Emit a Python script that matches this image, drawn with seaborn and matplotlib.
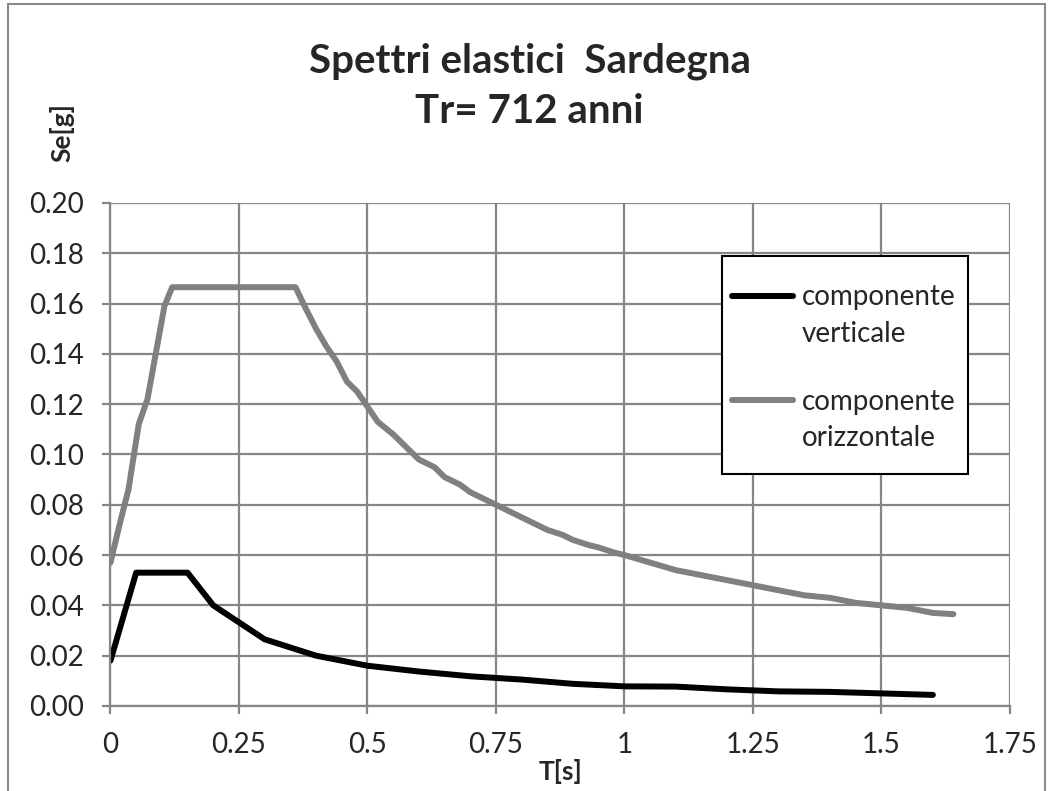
import numpy as np
import pandas as pd
import seaborn as sns
import matplotlib.pyplot as plt
from matplotlib.patches import Rectangle
from matplotlib.legend_handler import HandlerLine2D

# periodo T[s] e accelerazione spettrale Se[g]
t_vert = [0, 0.05, 0.15, 0.2, 0.3, 0.4, 0.5, 0.6, 0.7, 0.8, 0.9, 1.0,
          1.1, 1.2, 1.3, 1.4, 1.5, 1.6]
se_vert = [0.018, 0.053, 0.053, 0.040, 0.0265, 0.020, 0.016, 0.0137, 0.0118,
           0.0105, 0.0088, 0.0078, 0.0077, 0.0066, 0.0058, 0.0056, 0.0050, 0.0044]

t_orizz = [0, 0.02, 0.035, 0.055, 0.072, 0.105, 0.12, 0.36, 0.38, 0.40, 0.42,
           0.44, 0.46, 0.48, 0.50, 0.52, 0.55, 0.58, 0.60, 0.63, 0.65, 0.68,
           0.70, 0.72, 0.75, 0.78, 0.80, 0.83, 0.85, 0.88, 0.90, 0.93, 0.95,
           0.98, 1.00, 1.05, 1.10, 1.15, 1.20, 1.25, 1.30, 1.35, 1.40, 1.45,
           1.50, 1.55, 1.60, 1.64]
se_orizz = [0.057, 0.074, 0.086, 0.112, 0.122, 0.159, 0.1665, 0.1665, 0.158,
            0.150, 0.143, 0.137, 0.129, 0.125, 0.119, 0.113, 0.108, 0.102,
            0.098, 0.095, 0.091, 0.088, 0.085, 0.083, 0.080, 0.077, 0.075,
            0.072, 0.070, 0.068, 0.066, 0.064, 0.063, 0.061, 0.060, 0.057,
            0.054, 0.052, 0.050, 0.048, 0.046, 0.044, 0.043, 0.041, 0.040,
            0.039, 0.037, 0.0365]

x_ticks = [0, 0.25, 0.5, 0.75, 1, 1.25, 1.5, 1.75]
x_labels = ["0", "0.25", "0.5", "0.75", "1", "1.25", "1.5", "1.75"]
y_ticks = [0.00, 0.02, 0.04, 0.06, 0.08, 0.10, 0.12, 0.14, 0.16, 0.18, 0.20]


# legend line sits next to the first line of the label, like Excel
class TopLine(HandlerLine2D):
    def create_artists(self, legend, orig_handle, xdescent, ydescent,
                       width, height, fontsize, trans):
        arts = super().create_artists(legend, orig_handle, xdescent, ydescent,
                                      width, height, fontsize, trans)
        for a in arts:
            a.set_ydata(np.asarray(a.get_ydata()) + 15)
        return arts


sns.set_style("white")
plt.rcParams['font.family'] = ['Lato', 'DejaVu Sans']

fig = plt.figure(figsize=(10.49, 7.91), dpi=100)
ax = fig.add_axes([0.1053, 0.1075, 0.8575, 0.6359])

grid_col = "#868686"
sns.lineplot(x=t_vert, y=se_vert, ax=ax, color="black", lw=4.3,
             label="componente\nverticale", solid_capstyle="round")
sns.lineplot(x=t_orizz, y=se_orizz, ax=ax, color="#808080", lw=4.3,
             label="componente\norizzontale", solid_capstyle="round")

ax.set_xlim(0, 1.75)
ax.set_ylim(0, 0.20)
ax.set_xticks(x_ticks)
ax.set_xticklabels(x_labels)
ax.set_yticks(y_ticks)
ax.set_yticklabels([f"{v:.2f}" for v in y_ticks])
ax.grid(True, color=grid_col, lw=1.6)
ax.set_axisbelow(True)
for s in ["top", "right"]:
    ax.spines[s].set_visible(False)
for s in ["left", "bottom"]:
    ax.spines[s].set_color(grid_col)
    ax.spines[s].set_linewidth(1.6)
ax.tick_params(axis="both", direction="out", length=6, width=1.6,
               color=grid_col, labelsize=20, pad=13, left=True, bottom=True)

ax.set_xlabel("")
ax.set_ylabel("")
fig.text(0.534, 0.025, "T[s]", ha="center", va="center", fontsize=19,
         fontweight="bold")
fig.text(0.059, 0.833, "Se[g]", ha="center", va="center", rotation=90,
         fontsize=19, fontweight="bold")
fig.text(0.505, 0.923, "Spettri elastici  Sardegna", ha="center",
         va="center", fontsize=29, fontweight="bold")
fig.text(0.505, 0.859, "Tr= 712 anni", ha="center", va="center",
         fontsize=29, fontweight="bold")

# legend box drawn by hand (Excel keeps little side padding)
ax.add_patch(Rectangle((0.6798, 0.4612), 0.2735, 0.4334,
                       transform=ax.transAxes, facecolor="white",
                       edgecolor="black", lw=1.5, zorder=4))
handles, labels = ax.get_legend_handles_labels()
leg = ax.legend(handles, labels, loc="upper left",
                bbox_to_anchor=(0.6909, 0.838), borderaxespad=0,
                frameon=False, fontsize=20, handlelength=2.2,
                handletextpad=0.3, labelspacing=1.5, borderpad=0,
                handler_map={h: TopLine() for h in handles})
leg.set_zorder(5)
for t in leg.get_texts():
    t.set_linespacing(1.5)

fig.add_artist(Rectangle((8 / 1049, -0.1), (1045 - 8) / 1049, 1.1 - 4 / 791,
                         transform=fig.transFigure, fill=False,
                         edgecolor="#8a8a8a", lw=1.5))

fig.savefig("out.png", dpi=100)
